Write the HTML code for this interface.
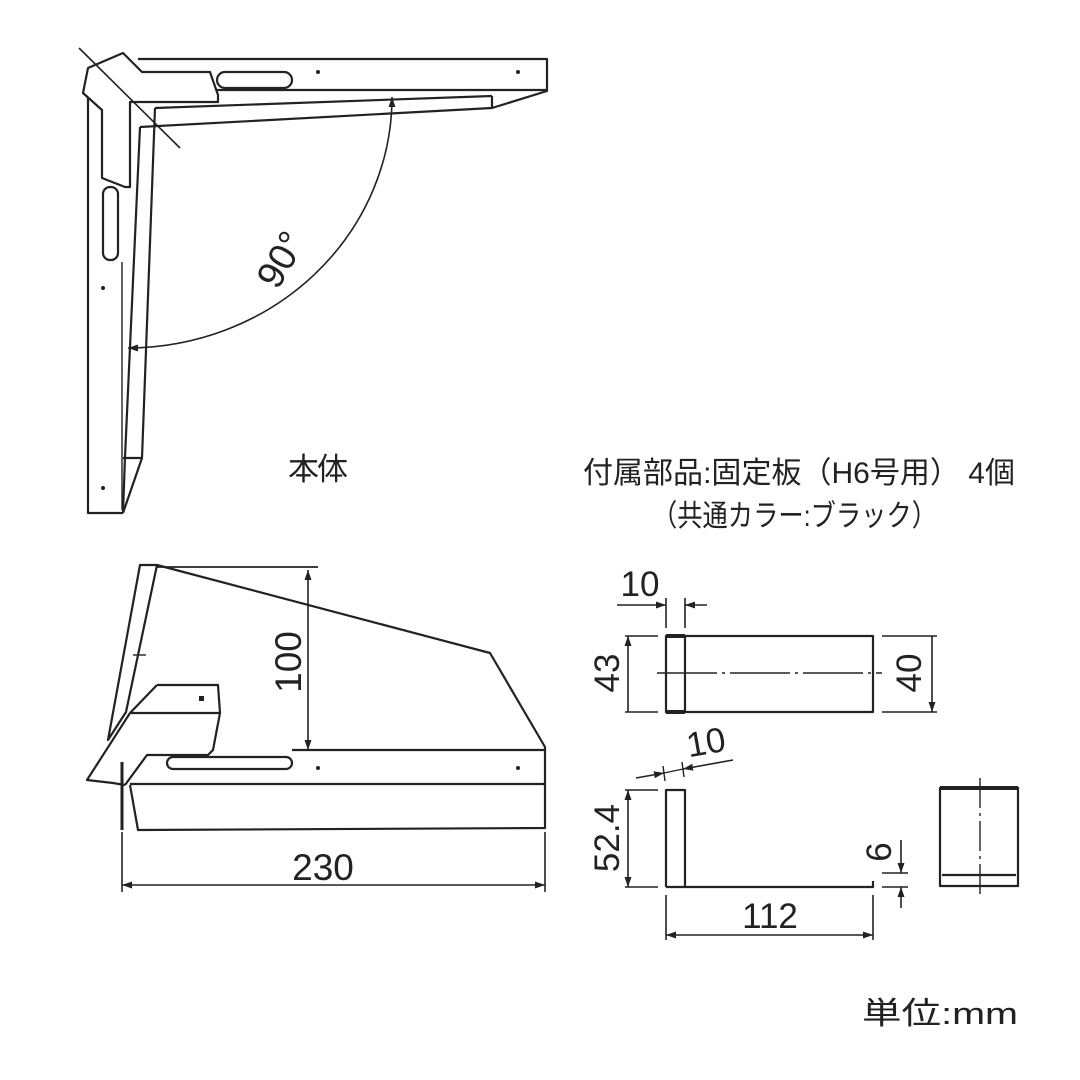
<!DOCTYPE html>
<html><head><meta charset="utf-8"><style>
html,body{margin:0;padding:0;background:#fff}
svg{display:block}
text{font-family:"Liberation Sans","Noto Sans CJK JP",sans-serif;fill:#222}
</style></head><body>
<svg width="1080" height="1080" viewBox="0 0 1080 1080" xmlns="http://www.w3.org/2000/svg">
<defs>
<marker id="a" viewBox="0 0 10 10" refX="10" refY="5" markerWidth="10" markerHeight="10" orient="auto-start-reverse" markerUnits="userSpaceOnUse"><path d="M0,1.5 L10,5 L0,8.5 z" fill="#222"/></marker>
</defs>
<g fill="none" stroke="#222" stroke-width="2.2" stroke-linejoin="round">
<path d="M138,59 L547,59 L547,91 L492,108 L492,96"/>
<path d="M216,90 L547,90"/>
<path d="M155,108 L492,96"/>
<path d="M140,127 L492,108"/>
<path d="M140,127 L125,457 L123,513"/>
<path d="M155,108 L142,458 L123,513"/>
<path d="M88,90 L88,513 L123,513"/>
<path d="M123,458 L142,458"/>
<path d="M122,262 L122,510" stroke-width="1.4"/>
<path d="M88,68 L123,53 L142,72 L210,72 L218,95 L218,102 L130,102 L130,187 L125,187 L102,178 L102,110 L83,93 Z" fill="#fff"/>
<rect x="217" y="72" width="75" height="16" rx="8" fill="#fff"/>
<rect x="103" y="187" width="15" height="73" rx="7" fill="#fff"/>
<path d="M79,48 L180,148" stroke-width="1.6"/>
<path d="M392,97 A265 251 0 0 1 128,348" stroke-width="1.6" marker-start="url(#a)" marker-end="url(#a)"/>
<path d="M140,567 L318,567" stroke-width="1.8"/>
<path d="M157,565 L490,653 L545,747 L545,828 L138,830 L130,785"/>
<path d="M130,784 L545,784"/>
<path d="M292,750 L545,750"/>
<path d="M140,565 L157,565 L126,712 L108,740 Z" fill="#fff"/>
<path d="M133,655 L146,655" stroke-width="1.4"/>
<path d="M157,685 L218,685 L220,713 L213,750 L208,755 L147,755 L125,785"/>
<path d="M130,713 L157,685 M130,713 L220,713"/>
<path d="M130,713 L87,780 L113,783 L125,785"/>
<rect x="167" y="757" width="125" height="12" rx="6"/>
<path d="M122,762 L122,830" stroke-width="3"/>
<path d="M308,570 L308,750" stroke-width="1.6" marker-start="url(#a)" marker-end="url(#a)"/>
<path d="M122,832 L122,892 M545,832 L545,892" stroke-width="1.6"/>
<path d="M122,885 L545,885" stroke-width="1.6" marker-start="url(#a)" marker-end="url(#a)"/>
<rect x="666" y="636" width="207" height="76"/>
<path d="M685,636 L685,712"/>
<path d="M666,636 L685,636 M666,712 L685,712" stroke-width="4"/>
<path d="M657,673 L882,673" stroke-width="1.4" stroke-dasharray="60,5,3,5"/>
<path d="M666,598 L666,628 M685,598 L685,628" stroke-width="1.6"/>
<path d="M617,605 L666,605" stroke-width="1.6" marker-end="url(#a)"/>
<path d="M707,605 L685,605" stroke-width="1.6" marker-end="url(#a)"/>
<path d="M625,636 L658,636 M625,712 L658,712 M882,636 L937,636 M882,712 L937,712" stroke-width="1.6"/>
<path d="M628,636 L628,712 M932,636 L932,712" stroke-width="1.6" marker-start="url(#a)" marker-end="url(#a)"/>
<path d="M666,887 L666,790 L685,790 L685,887 M666,887 L873,887 L873,881"/>
<path d="M625,790 L658,790 M625,887 L658,887" stroke-width="1.6"/>
<path d="M628,790 L628,887" stroke-width="1.6" marker-start="url(#a)" marker-end="url(#a)"/>
<path d="M636,778 L664,773" stroke-width="1.6" marker-end="url(#a)"/>
<path d="M733,760 L683,769" stroke-width="1.6" marker-end="url(#a)"/>
<path d="M664,773 L683,769 M663,766 L665,781 M682,762 L684,777" stroke-width="1.4"/>
<path d="M882,873 L908,873 M882,887 L908,887" stroke-width="1.6"/>
<path d="M901,840 L901,873" stroke-width="1.6" marker-end="url(#a)"/>
<path d="M901,908 L901,887" stroke-width="1.6" marker-end="url(#a)"/>
<path d="M666,895 L666,940 M873,895 L873,940" stroke-width="1.6"/>
<path d="M666,935 L873,935" stroke-width="1.6" marker-start="url(#a)" marker-end="url(#a)"/>
<rect x="940" y="788" width="78" height="98"/>
<path d="M940,788 L1018,788" stroke-width="4"/>
<path d="M942,875 L1016,875"/>
<path d="M980,778 L980,896" stroke-width="1.4" stroke-dasharray="30,5,3,5"/>
</g>
<g fill="#222">
<circle cx="318" cy="72" r="2"/><circle cx="518" cy="72" r="2"/>
<circle cx="103" cy="288" r="2"/><circle cx="103" cy="488" r="2"/>
<circle cx="318" cy="768" r="2"/><circle cx="518" cy="768" r="2"/>
<rect x="199" y="696" width="5" height="5"/>
</g>
<text x="292" y="266" font-size="38" transform="rotate(-60 292 266)" text-anchor="middle">90°</text>
<text x="288" y="480" font-size="31" textLength="60">本体</text>
<text x="583" y="483" font-size="30" textLength="432" lengthAdjust="spacingAndGlyphs">付属部品:固定板（H6号用） 4個</text>
<text x="652" y="526" font-size="30" textLength="285" lengthAdjust="spacingAndGlyphs">（共通カラー:ブラック）</text>
<text x="301" y="662" font-size="37" transform="rotate(-90 301 662)" text-anchor="middle">100</text>
<text x="323" y="880" font-size="37" text-anchor="middle">230</text>
<text x="640" y="596" font-size="35" text-anchor="middle">10</text>
<text x="619" y="673" font-size="35" transform="rotate(-90 619 673)" text-anchor="middle">43</text>
<text x="921" y="673" font-size="35" transform="rotate(-90 921 673)" text-anchor="middle">40</text>
<text x="708" y="754" font-size="35" text-anchor="middle" transform="rotate(-10 708 754)">10</text>
<text x="619" y="838" font-size="35" transform="rotate(-90 619 838)" text-anchor="middle">52.4</text>
<text x="891" y="852" font-size="35" transform="rotate(-90 891 852)" text-anchor="middle">6</text>
<text x="770" y="928" font-size="35" text-anchor="middle">112</text>
<text x="862" y="1024" font-size="31" textLength="156" lengthAdjust="spacingAndGlyphs">単位:mm</text>
</svg>
</body></html>
